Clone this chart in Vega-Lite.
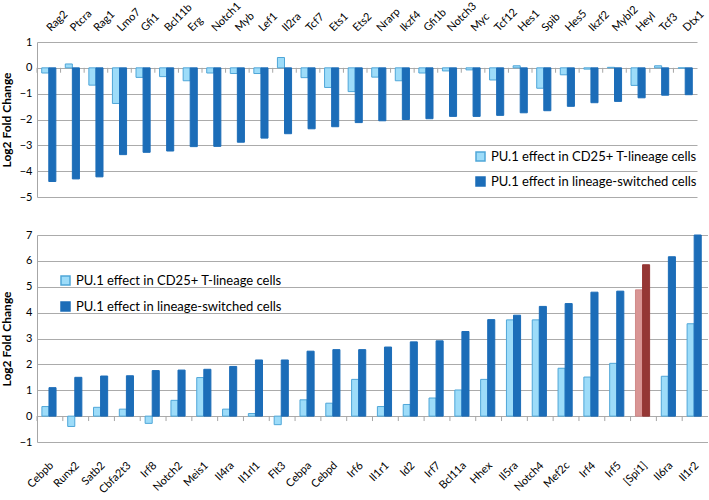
{
  "$schema": "https://vega.github.io/schema/vega-lite/v6.json",
  "padding": {"left": 0, "top": 0, "right": 0, "bottom": 0},
  "spacing": 27,
  "config": {
    "view": {"stroke": null},
    "font": "Lato",
    "axis": {"labelFont": "Lato", "titleFont": "Lato", "gridColor": "#ABABAB", "domainColor": "#A6A6A6", "labelColor": "#000000", "titleColor": "#000000"},
    "legend": {"labelFont": "Lato", "labelLimit": 0}
  },
  "datasets": {
    "top": [
      {"gene": "Rag2", "a": -0.2, "b": -4.4},
      {"gene": "Ptcra", "a": 0.15, "b": -4.3},
      {"gene": "Rag1", "a": -0.67, "b": -4.22},
      {"gene": "Lmo7", "a": -1.38, "b": -3.36},
      {"gene": "Gfi1", "a": -0.37, "b": -3.27},
      {"gene": "Bcl11b", "a": -0.34, "b": -3.22},
      {"gene": "Erg", "a": -0.5, "b": -3.05},
      {"gene": "Notch1", "a": -0.2, "b": -3.04},
      {"gene": "Myb", "a": -0.22, "b": -2.88},
      {"gene": "Lef1", "a": -0.22, "b": -2.72},
      {"gene": "Il2ra", "a": 0.4, "b": -2.55},
      {"gene": "Tcf7", "a": -0.38, "b": -2.36},
      {"gene": "Ets1", "a": -0.76, "b": -2.28},
      {"gene": "Ets2", "a": -0.92, "b": -2.12},
      {"gene": "Nrarp", "a": -0.36, "b": -2.05},
      {"gene": "Ikzf4", "a": -0.5, "b": -2.0},
      {"gene": "Gfi1b", "a": -0.2, "b": -1.97},
      {"gene": "Notch3", "a": -0.12, "b": -1.88},
      {"gene": "Myc", "a": -0.08, "b": -1.88},
      {"gene": "Tcf12", "a": -0.47, "b": -1.84},
      {"gene": "Hes1", "a": 0.08, "b": -1.74},
      {"gene": "Spib", "a": -0.79, "b": -1.66},
      {"gene": "Hes5", "a": -0.27, "b": -1.49},
      {"gene": "Ikzf2", "a": -0.05, "b": -1.35},
      {"gene": "Mybl2", "a": 0.02, "b": -1.3},
      {"gene": "Heyl", "a": -0.68, "b": -1.16},
      {"gene": "Tcf3", "a": 0.08, "b": -1.06},
      {"gene": "Dtx1", "a": -0.01, "b": -1.04}
    ],
    "bottom": [
      {"gene": "Cebpb", "a": 0.37, "b": 1.1},
      {"gene": "Runx2", "a": -0.4, "b": 1.5},
      {"gene": "Satb2", "a": 0.34, "b": 1.55},
      {"gene": "Cbfa2t3", "a": 0.27, "b": 1.56},
      {"gene": "Irf8", "a": -0.28, "b": 1.76},
      {"gene": "Notch2", "a": 0.61, "b": 1.78},
      {"gene": "Meis1", "a": 1.49, "b": 1.81},
      {"gene": "Il4ra", "a": 0.27, "b": 1.92},
      {"gene": "Il1rl1", "a": 0.1, "b": 2.17},
      {"gene": "Flt3", "a": -0.33, "b": 2.17},
      {"gene": "Cebpa", "a": 0.63, "b": 2.51},
      {"gene": "Cebpd", "a": 0.5, "b": 2.57},
      {"gene": "Irf6", "a": 1.42, "b": 2.57},
      {"gene": "Il1r1", "a": 0.37, "b": 2.67},
      {"gene": "Id2", "a": 0.45, "b": 2.87},
      {"gene": "Irf7", "a": 0.7, "b": 2.91},
      {"gene": "Bcl11a", "a": 1.01, "b": 3.27},
      {"gene": "Hhex", "a": 1.42, "b": 3.73},
      {"gene": "Il5ra", "a": 3.72, "b": 3.9},
      {"gene": "Notch4", "a": 3.72, "b": 4.24},
      {"gene": "Mef2c", "a": 1.85, "b": 4.35},
      {"gene": "Irf4", "a": 1.51, "b": 4.79},
      {"gene": "Irf5", "a": 2.04, "b": 4.83},
      {"gene": "[Spi1]", "a": 4.88, "b": 5.85},
      {"gene": "Il6ra", "a": 1.54, "b": 6.16},
      {"gene": "Il1r2", "a": 3.57, "b": 7.0}
    ]
  },
  "resolve": {"scale": {"color": "independent", "stroke": "independent"}},
  "vconcat": [
    {
      "width": 660,
      "height": 155,
      "data": {"name": "top"},
      "transform": [{"fold": ["a", "b"], "as": ["series", "value"]}],
      "resolve": {"axis": {"x": "independent", "y": "independent"}},
      "layer": [
        {
          "mark": {"type": "bar", "strokeWidth": 1},
          "encoding": {
            "x": {"field": "gene", "type": "nominal", "sort": null,
                  "scale": {"paddingInner": 0.4, "paddingOuter": 0.2},
                  "axis": null},
            "xOffset": {"field": "series", "type": "nominal", "sort": ["a", "b"]},
            "y": {"field": "value", "type": "quantitative",
                  "scale": {"domain": [-5, 1], "nice": false},
                  "axis": {"values": [-5, -4, -3, -2, -1, 0, 1], "title": "Log2 Fold Change", "titleFontSize": 12, "titleFontWeight": "bold", "labelFontSize": 11, "ticks": false, "labelPadding": 5, "titlePadding": 6}},
            "color": {"field": "series", "type": "nominal",
                      "scale": {"domain": ["a", "b"], "range": ["#9DDCF9", "#1C6DB8"]},
                      "legend": {"title": null, "orient": "none", "legendX": 437, "legendY": 108, "labelFontSize": 13, "symbolType": "square", "symbolSize": 81, "rowPadding": 10, "labelOffset": 4,
                                 "labelExpr": "datum.value == 'a' ? 'PU.1 effect in CD25+ T-lineage cells' : 'PU.1 effect in lineage-switched cells'"}},
            "stroke": {"field": "series", "type": "nominal",
                       "scale": {"domain": ["a", "b"], "range": ["#4FA6D8", "#1C6DB8"]},
                       "legend": {"title": null, "orient": "none", "legendX": 437, "legendY": 108, "labelFontSize": 13, "symbolType": "square", "symbolSize": 81, "rowPadding": 10, "labelOffset": 4,
                                 "labelExpr": "datum.value == 'a' ? 'PU.1 effect in CD25+ T-lineage cells' : 'PU.1 effect in lineage-switched cells'"}}
          }
        },
        {
          "transform": [{"filter": "datum.series == 'a'"}],
          "mark": {"type": "rule", "color": "#A6A6A6"},
          "encoding": {
            "x": {"field": "gene", "type": "nominal", "sort": null, "bandPosition": -0.3333, "axis": null},
            "y": {"datum": 0, "axis": null},
            "y2": {"datum": -0.19}
          }
        },
        {
          "transform": [{"filter": "datum.series == 'a'"}],
          "mark": {"type": "text", "angle": 315, "align": "left", "baseline": "middle", "fontSize": 11, "font": "Lato", "color": "#000000", "yOffset": -12, "xOffset": 0},
          "encoding": {
            "x": {"field": "gene", "type": "nominal", "sort": null, "axis": null},
            "y": {"datum": 1, "axis": null},
            "text": {"field": "gene"}
          }
        }
      ]
    },
    {
      "width": 671,
      "height": 207,
      "data": {"name": "bottom"},
      "transform": [{"fold": ["a", "b"], "as": ["series", "value"]}],
      "resolve": {"axis": {"x": "independent", "y": "independent"}},
      "layer": [
        {
          "mark": {"type": "bar", "strokeWidth": 1},
          "encoding": {
            "x": {"field": "gene", "type": "nominal", "sort": null,
                  "scale": {"paddingInner": 0.38, "paddingOuter": 0.19},
                  "axis": null},
            "xOffset": {"field": "series", "type": "nominal", "sort": ["a", "b"]},
            "y": {"field": "value", "type": "quantitative",
                  "scale": {"domain": [-1, 7], "nice": false},
                  "axis": {"values": [-1, 0, 1, 2, 3, 4, 5, 6, 7], "title": "Log2 Fold Change", "titleFontSize": 12, "titleFontWeight": "bold", "labelFontSize": 11, "ticks": false, "labelPadding": 5, "titlePadding": 6}},
            "color": {
              "condition": [
                {"test": "datum.gene == '[Spi1]' && datum.series == 'a'", "value": "#D99594"},
                {"test": "datum.gene == '[Spi1]' && datum.series == 'b'", "value": "#953735"}
              ],
              "field": "series", "type": "nominal",
              "scale": {"domain": ["a", "b"], "range": ["#9DDCF9", "#1C6DB8"]},
              "legend": {"title": null, "orient": "none", "legendX": 22, "legendY": 39, "labelFontSize": 13, "symbolType": "square", "symbolSize": 81, "rowPadding": 11, "labelOffset": 4,
                         "labelExpr": "datum.value == 'a' ? 'PU.1 effect in CD25+ T-lineage cells' : 'PU.1 effect in lineage-switched cells'"}},
            "stroke": {
              "condition": [
                {"test": "datum.gene == '[Spi1]' && datum.series == 'a'", "value": "#D08A89"},
                {"test": "datum.gene == '[Spi1]' && datum.series == 'b'", "value": "#953735"}
              ],
              "field": "series", "type": "nominal",
              "scale": {"domain": ["a", "b"], "range": ["#4FA6D8", "#1C6DB8"]},
              "legend": {"title": null, "orient": "none", "legendX": 22, "legendY": 39, "labelFontSize": 13, "symbolType": "square", "symbolSize": 81, "rowPadding": 11, "labelOffset": 4,
                         "labelExpr": "datum.value == 'a' ? 'PU.1 effect in CD25+ T-lineage cells' : 'PU.1 effect in lineage-switched cells'"}}
          }
        },
        {
          "transform": [{"filter": "datum.series == 'a'"}],
          "mark": {"type": "rule", "color": "#A6A6A6"},
          "encoding": {
            "x": {"field": "gene", "type": "nominal", "sort": null, "bandPosition": -0.3065, "axis": null},
            "y": {"datum": 0, "axis": null},
            "y2": {"datum": -0.19}
          }
        },
        {
          "transform": [{"filter": "datum.series == 'a'"}],
          "mark": {"type": "text", "angle": 315, "align": "right", "baseline": "middle", "fontSize": 11, "font": "Lato", "color": "#000000", "yOffset": 22, "xOffset": 2},
          "encoding": {
            "x": {"field": "gene", "type": "nominal", "sort": null, "axis": null},
            "y": {"datum": -1, "axis": null},
            "text": {"field": "gene"}
          }
        }
      ]
    }
  ]
}
